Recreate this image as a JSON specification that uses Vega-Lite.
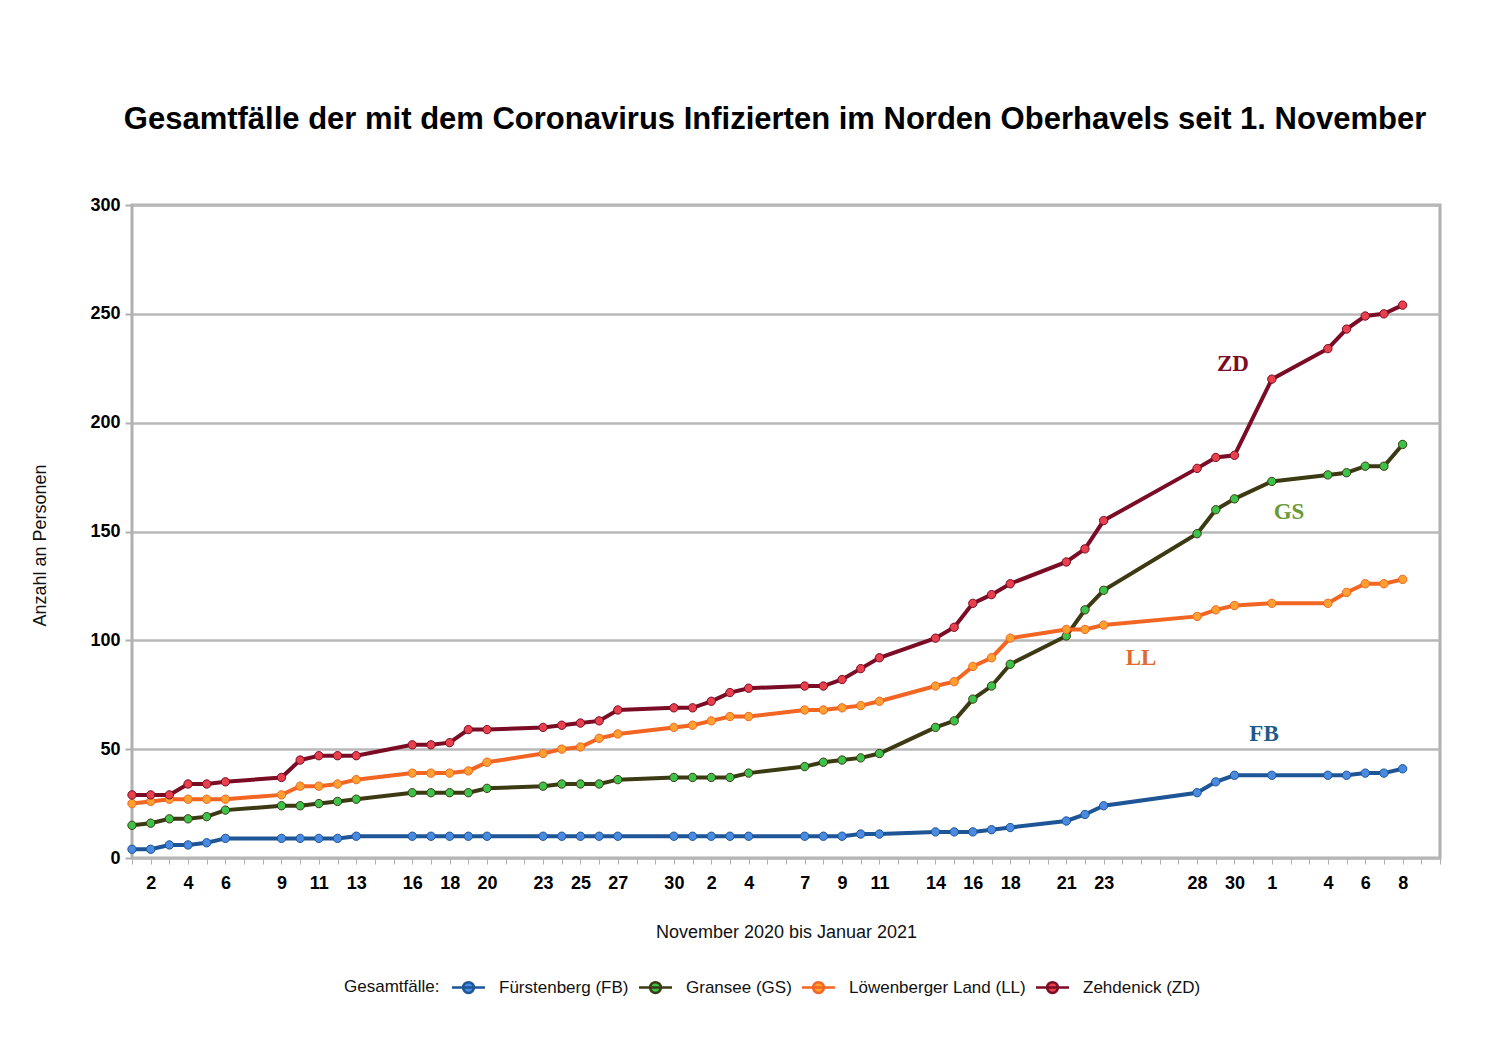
{
  "$schema": "https://vega.github.io/schema/vega-lite/v6.json",
  "autosize": "none",
  "width": 1308,
  "height": 653,
  "padding": {"left": 132, "top": 205, "right": 60, "bottom": 202},
  "background": "white",
  "title": {
    "text": "Gesamtfälle der mit dem Coronavirus Infizierten im Norden Oberhavels seit 1. November",
    "font": "Liberation Sans",
    "fontSize": 31,
    "fontWeight": "bold",
    "color": "#000000",
    "anchor": "middle",
    "dx": -11,
    "offset": 60
  },
  "config": {
    "view": {"stroke": "#b0b0b0", "strokeWidth": 3},
    "font": "Liberation Sans"
  },
  "datasets": {
    "cases": [
      {"d":"2020-11-01","s":"FB","n":4},{"d":"2020-11-02","s":"FB","n":4},{"d":"2020-11-03","s":"FB","n":6},{"d":"2020-11-04","s":"FB","n":6},{"d":"2020-11-05","s":"FB","n":7},{"d":"2020-11-06","s":"FB","n":9},{"d":"2020-11-09","s":"FB","n":9},{"d":"2020-11-10","s":"FB","n":9},{"d":"2020-11-11","s":"FB","n":9},{"d":"2020-11-12","s":"FB","n":9},{"d":"2020-11-13","s":"FB","n":10},{"d":"2020-11-16","s":"FB","n":10},{"d":"2020-11-17","s":"FB","n":10},{"d":"2020-11-18","s":"FB","n":10},{"d":"2020-11-19","s":"FB","n":10},{"d":"2020-11-20","s":"FB","n":10},{"d":"2020-11-23","s":"FB","n":10},{"d":"2020-11-24","s":"FB","n":10},{"d":"2020-11-25","s":"FB","n":10},{"d":"2020-11-26","s":"FB","n":10},{"d":"2020-11-27","s":"FB","n":10},{"d":"2020-11-30","s":"FB","n":10},
      {"d":"2020-12-01","s":"FB","n":10},{"d":"2020-12-02","s":"FB","n":10},{"d":"2020-12-03","s":"FB","n":10},{"d":"2020-12-04","s":"FB","n":10},{"d":"2020-12-07","s":"FB","n":10},{"d":"2020-12-08","s":"FB","n":10},{"d":"2020-12-09","s":"FB","n":10},{"d":"2020-12-10","s":"FB","n":11},{"d":"2020-12-11","s":"FB","n":11},{"d":"2020-12-14","s":"FB","n":12},{"d":"2020-12-15","s":"FB","n":12},{"d":"2020-12-16","s":"FB","n":12},{"d":"2020-12-17","s":"FB","n":13},{"d":"2020-12-18","s":"FB","n":14},{"d":"2020-12-21","s":"FB","n":17},{"d":"2020-12-22","s":"FB","n":20},{"d":"2020-12-23","s":"FB","n":24},{"d":"2020-12-28","s":"FB","n":30},{"d":"2020-12-29","s":"FB","n":35},{"d":"2020-12-30","s":"FB","n":38},
      {"d":"2021-01-01","s":"FB","n":38},{"d":"2021-01-04","s":"FB","n":38},{"d":"2021-01-05","s":"FB","n":38},{"d":"2021-01-06","s":"FB","n":39},{"d":"2021-01-07","s":"FB","n":39},{"d":"2021-01-08","s":"FB","n":41},

      {"d":"2020-11-01","s":"GS","n":15},{"d":"2020-11-02","s":"GS","n":16},{"d":"2020-11-03","s":"GS","n":18},{"d":"2020-11-04","s":"GS","n":18},{"d":"2020-11-05","s":"GS","n":19},{"d":"2020-11-06","s":"GS","n":22},{"d":"2020-11-09","s":"GS","n":24},{"d":"2020-11-10","s":"GS","n":24},{"d":"2020-11-11","s":"GS","n":25},{"d":"2020-11-12","s":"GS","n":26},{"d":"2020-11-13","s":"GS","n":27},{"d":"2020-11-16","s":"GS","n":30},{"d":"2020-11-17","s":"GS","n":30},{"d":"2020-11-18","s":"GS","n":30},{"d":"2020-11-19","s":"GS","n":30},{"d":"2020-11-20","s":"GS","n":32},{"d":"2020-11-23","s":"GS","n":33},{"d":"2020-11-24","s":"GS","n":34},{"d":"2020-11-25","s":"GS","n":34},{"d":"2020-11-26","s":"GS","n":34},{"d":"2020-11-27","s":"GS","n":36},{"d":"2020-11-30","s":"GS","n":37},
      {"d":"2020-12-01","s":"GS","n":37},{"d":"2020-12-02","s":"GS","n":37},{"d":"2020-12-03","s":"GS","n":37},{"d":"2020-12-04","s":"GS","n":39},{"d":"2020-12-07","s":"GS","n":42},{"d":"2020-12-08","s":"GS","n":44},{"d":"2020-12-09","s":"GS","n":45},{"d":"2020-12-10","s":"GS","n":46},{"d":"2020-12-11","s":"GS","n":48},{"d":"2020-12-14","s":"GS","n":60},{"d":"2020-12-15","s":"GS","n":63},{"d":"2020-12-16","s":"GS","n":73},{"d":"2020-12-17","s":"GS","n":79},{"d":"2020-12-18","s":"GS","n":89},{"d":"2020-12-21","s":"GS","n":102},{"d":"2020-12-22","s":"GS","n":114},{"d":"2020-12-23","s":"GS","n":123},{"d":"2020-12-28","s":"GS","n":149},{"d":"2020-12-29","s":"GS","n":160},{"d":"2020-12-30","s":"GS","n":165},
      {"d":"2021-01-01","s":"GS","n":173},{"d":"2021-01-04","s":"GS","n":176},{"d":"2021-01-05","s":"GS","n":177},{"d":"2021-01-06","s":"GS","n":180},{"d":"2021-01-07","s":"GS","n":180},{"d":"2021-01-08","s":"GS","n":190},

      {"d":"2020-11-01","s":"LL","n":25},{"d":"2020-11-02","s":"LL","n":26},{"d":"2020-11-03","s":"LL","n":27},{"d":"2020-11-04","s":"LL","n":27},{"d":"2020-11-05","s":"LL","n":27},{"d":"2020-11-06","s":"LL","n":27},{"d":"2020-11-09","s":"LL","n":29},{"d":"2020-11-10","s":"LL","n":33},{"d":"2020-11-11","s":"LL","n":33},{"d":"2020-11-12","s":"LL","n":34},{"d":"2020-11-13","s":"LL","n":36},{"d":"2020-11-16","s":"LL","n":39},{"d":"2020-11-17","s":"LL","n":39},{"d":"2020-11-18","s":"LL","n":39},{"d":"2020-11-19","s":"LL","n":40},{"d":"2020-11-20","s":"LL","n":44},{"d":"2020-11-23","s":"LL","n":48},{"d":"2020-11-24","s":"LL","n":50},{"d":"2020-11-25","s":"LL","n":51},{"d":"2020-11-26","s":"LL","n":55},{"d":"2020-11-27","s":"LL","n":57},{"d":"2020-11-30","s":"LL","n":60},
      {"d":"2020-12-01","s":"LL","n":61},{"d":"2020-12-02","s":"LL","n":63},{"d":"2020-12-03","s":"LL","n":65},{"d":"2020-12-04","s":"LL","n":65},{"d":"2020-12-07","s":"LL","n":68},{"d":"2020-12-08","s":"LL","n":68},{"d":"2020-12-09","s":"LL","n":69},{"d":"2020-12-10","s":"LL","n":70},{"d":"2020-12-11","s":"LL","n":72},{"d":"2020-12-14","s":"LL","n":79},{"d":"2020-12-15","s":"LL","n":81},{"d":"2020-12-16","s":"LL","n":88},{"d":"2020-12-17","s":"LL","n":92},{"d":"2020-12-18","s":"LL","n":101},{"d":"2020-12-21","s":"LL","n":105},{"d":"2020-12-22","s":"LL","n":105},{"d":"2020-12-23","s":"LL","n":107},{"d":"2020-12-28","s":"LL","n":111},{"d":"2020-12-29","s":"LL","n":114},{"d":"2020-12-30","s":"LL","n":116},
      {"d":"2021-01-01","s":"LL","n":117},{"d":"2021-01-04","s":"LL","n":117},{"d":"2021-01-05","s":"LL","n":122},{"d":"2021-01-06","s":"LL","n":126},{"d":"2021-01-07","s":"LL","n":126},{"d":"2021-01-08","s":"LL","n":128},

      {"d":"2020-11-01","s":"ZD","n":29},{"d":"2020-11-02","s":"ZD","n":29},{"d":"2020-11-03","s":"ZD","n":29},{"d":"2020-11-04","s":"ZD","n":34},{"d":"2020-11-05","s":"ZD","n":34},{"d":"2020-11-06","s":"ZD","n":35},{"d":"2020-11-09","s":"ZD","n":37},{"d":"2020-11-10","s":"ZD","n":45},{"d":"2020-11-11","s":"ZD","n":47},{"d":"2020-11-12","s":"ZD","n":47},{"d":"2020-11-13","s":"ZD","n":47},{"d":"2020-11-16","s":"ZD","n":52},{"d":"2020-11-17","s":"ZD","n":52},{"d":"2020-11-18","s":"ZD","n":53},{"d":"2020-11-19","s":"ZD","n":59},{"d":"2020-11-20","s":"ZD","n":59},{"d":"2020-11-23","s":"ZD","n":60},{"d":"2020-11-24","s":"ZD","n":61},{"d":"2020-11-25","s":"ZD","n":62},{"d":"2020-11-26","s":"ZD","n":63},{"d":"2020-11-27","s":"ZD","n":68},{"d":"2020-11-30","s":"ZD","n":69},
      {"d":"2020-12-01","s":"ZD","n":69},{"d":"2020-12-02","s":"ZD","n":72},{"d":"2020-12-03","s":"ZD","n":76},{"d":"2020-12-04","s":"ZD","n":78},{"d":"2020-12-07","s":"ZD","n":79},{"d":"2020-12-08","s":"ZD","n":79},{"d":"2020-12-09","s":"ZD","n":82},{"d":"2020-12-10","s":"ZD","n":87},{"d":"2020-12-11","s":"ZD","n":92},{"d":"2020-12-14","s":"ZD","n":101},{"d":"2020-12-15","s":"ZD","n":106},{"d":"2020-12-16","s":"ZD","n":117},{"d":"2020-12-17","s":"ZD","n":121},{"d":"2020-12-18","s":"ZD","n":126},{"d":"2020-12-21","s":"ZD","n":136},{"d":"2020-12-22","s":"ZD","n":142},{"d":"2020-12-23","s":"ZD","n":155},{"d":"2020-12-28","s":"ZD","n":179},{"d":"2020-12-29","s":"ZD","n":184},{"d":"2020-12-30","s":"ZD","n":185},
      {"d":"2021-01-01","s":"ZD","n":220},{"d":"2021-01-04","s":"ZD","n":234},{"d":"2021-01-05","s":"ZD","n":243},{"d":"2021-01-06","s":"ZD","n":249},{"d":"2021-01-07","s":"ZD","n":250},{"d":"2021-01-08","s":"ZD","n":254}
    ],
    "labels": [
      {"d":"2020-12-29T22:05:00Z","n":227,"s":"ZD"},
      {"d":"2021-01-01T22:05:00Z","n":159,"s":"GS"},
      {"d":"2020-12-25T00:00:00Z","n":92,"s":"LL"},
      {"d":"2020-12-31T14:00:00Z","n":57,"s":"FB"}
    ]
  },
  "encoding": {
    "x": {
      "field": "d",
      "type": "temporal",
      "scale": {
        "type": "utc",
        "domain": [{"year": 2020, "month": 11, "date": 1, "utc": true}, {"year": 2021, "month": 1, "date": 10, "utc": true}]
      },
      "axis": {
        "title": "November 2020 bis Januar 2021",
        "titleFont": "Liberation Sans",
        "titleFontSize": 18,
        "titleFontWeight": "normal",
        "titleColor": "#111111",
        "titlePadding": 31,
        "tickCount": {"interval": "day", "step": 1},
        "labelExpr": "indexof(['11-02','11-04','11-06','11-09','11-11','11-13','11-16','11-18','11-20','11-23','11-25','11-27','11-30','12-02','12-04','12-07','12-09','12-11','12-14','12-16','12-18','12-21','12-23','12-28','12-30','01-01','01-04','01-06','01-08'], utcFormat(datum.value, '%m-%d')) >= 0 ? utcFormat(datum.value, '%-d') : ''",
        "labelOverlap": false,
        "labelBound": false,
        "labelFlush": false,
        "labelFont": "Liberation Sans",
        "labelFontSize": 18,
        "labelFontWeight": "bold",
        "labelColor": "#000000",
        "labelPadding": 10,
        "tickColor": "#b0b0b0",
        "tickSize": 6,
        "tickWidth": 1,
        "domain": false,
        "grid": false
      }
    },
    "y": {
      "field": "n",
      "type": "quantitative",
      "scale": {"domain": [0, 300], "nice": false},
      "axis": {
        "title": "Anzahl an Personen",
        "titleFont": "Liberation Sans",
        "titleFontSize": 18,
        "titleFontWeight": "normal",
        "titleColor": "#111111",
        "titlePadding": 40,
        "titleY": 340,
        "values": [0, 50, 100, 150, 200, 250, 300],
        "labelFont": "Liberation Sans",
        "labelFontSize": 18,
        "labelFontWeight": "bold",
        "labelColor": "#000000",
        "labelPadding": 5,
        "tickColor": "#b0b0b0",
        "tickSize": 7,
        "tickWidth": 2,
        "domain": false,
        "grid": true,
        "gridColor": "#b8b8b8",
        "gridWidth": 2.5
      }
    }
  },
  "layer": [
    {
      "data": {"name": "cases"},
      "mark": {"type": "line", "strokeWidth": 4},
      "encoding": {
        "stroke": {
          "field": "s",
          "type": "nominal",
          "scale": {"domain": ["FB", "GS", "LL", "ZD"], "range": ["#1d5596", "#3c3a12", "#f26522", "#7b0c26"]},
          "legend": {
            "orient": "none",
            "legendX": 212,
            "legendY": 772,
            "direction": "horizontal",
            "title": "Gesamtfälle:",
            "titleOrient": "left",
            "titleFont": "Liberation Sans",
            "titleFontSize": 17,
            "titleFontWeight": "normal",
            "titleColor": "#111111",
            "titlePadding": 18,
            "labelFont": "Liberation Sans",
            "labelFontSize": 17,
            "labelColor": "#111111",
            "labelLimit": 0,
            "labelExpr": "datum.label == 'FB' ? 'Fürstenberg (FB)' : datum.label == 'GS' ? 'Gransee (GS)' : datum.label == 'LL' ? 'Löwenberger Land (LL)' : 'Zehdenick (ZD)'",
            "symbolType": "M-1.83,0L1.83,0M0.6,0A0.6,0.6,0,1,1,-0.6,0A0.6,0.6,0,1,1,0.6,0Z",
            "symbolSize": 324,
            "symbolStrokeWidth": 2.5,
            "columnPadding": 5,
            "labelOffset": 20
          }
        }
      }
    },
    {
      "data": {"name": "cases"},
      "mark": {"type": "point", "filled": true, "size": 70, "strokeWidth": 1, "opacity": 1},
      "encoding": {
        "fill": {
          "field": "s",
          "type": "nominal",
          "scale": {"domain": ["FB", "GS", "LL", "ZD"], "range": ["#4a8ae0", "#3dc24a", "#ffa030", "#e8404c"]},
          "legend": {
            "orient": "none",
            "legendX": 212,
            "legendY": 772,
            "direction": "horizontal",
            "title": "Gesamtfälle:",
            "titleOrient": "left",
            "titlePadding": 18,
            "labelLimit": 0,
            "labelExpr": "datum.label == 'FB' ? 'Fürstenberg (FB)' : datum.label == 'GS' ? 'Gransee (GS)' : datum.label == 'LL' ? 'Löwenberger Land (LL)' : 'Zehdenick (ZD)'",
            "symbolType": "M-1.83,0L1.83,0M0.6,0A0.6,0.6,0,1,1,-0.6,0A0.6,0.6,0,1,1,0.6,0Z",
            "symbolSize": 324,
            "symbolStrokeWidth": 2.5,
            "columnPadding": 5,
            "labelOffset": 20
          }
        },
        "stroke": {"field": "s", "type": "nominal"}
      }
    },
    {
      "data": {"name": "labels"},
      "mark": {"type": "text", "font": "Liberation Serif", "fontSize": 23, "fontWeight": "bold", "align": "center", "baseline": "middle"},
      "encoding": {
        "text": {"field": "s", "type": "nominal"},
        "color": {
          "field": "s",
          "type": "nominal",
          "scale": {"domain": ["FB", "GS", "LL", "ZD"], "range": ["#1f5a8a", "#6b9b37", "#e06a30", "#7b0c26"]},
          "legend": null
        }
      }
    }
  ]
}
